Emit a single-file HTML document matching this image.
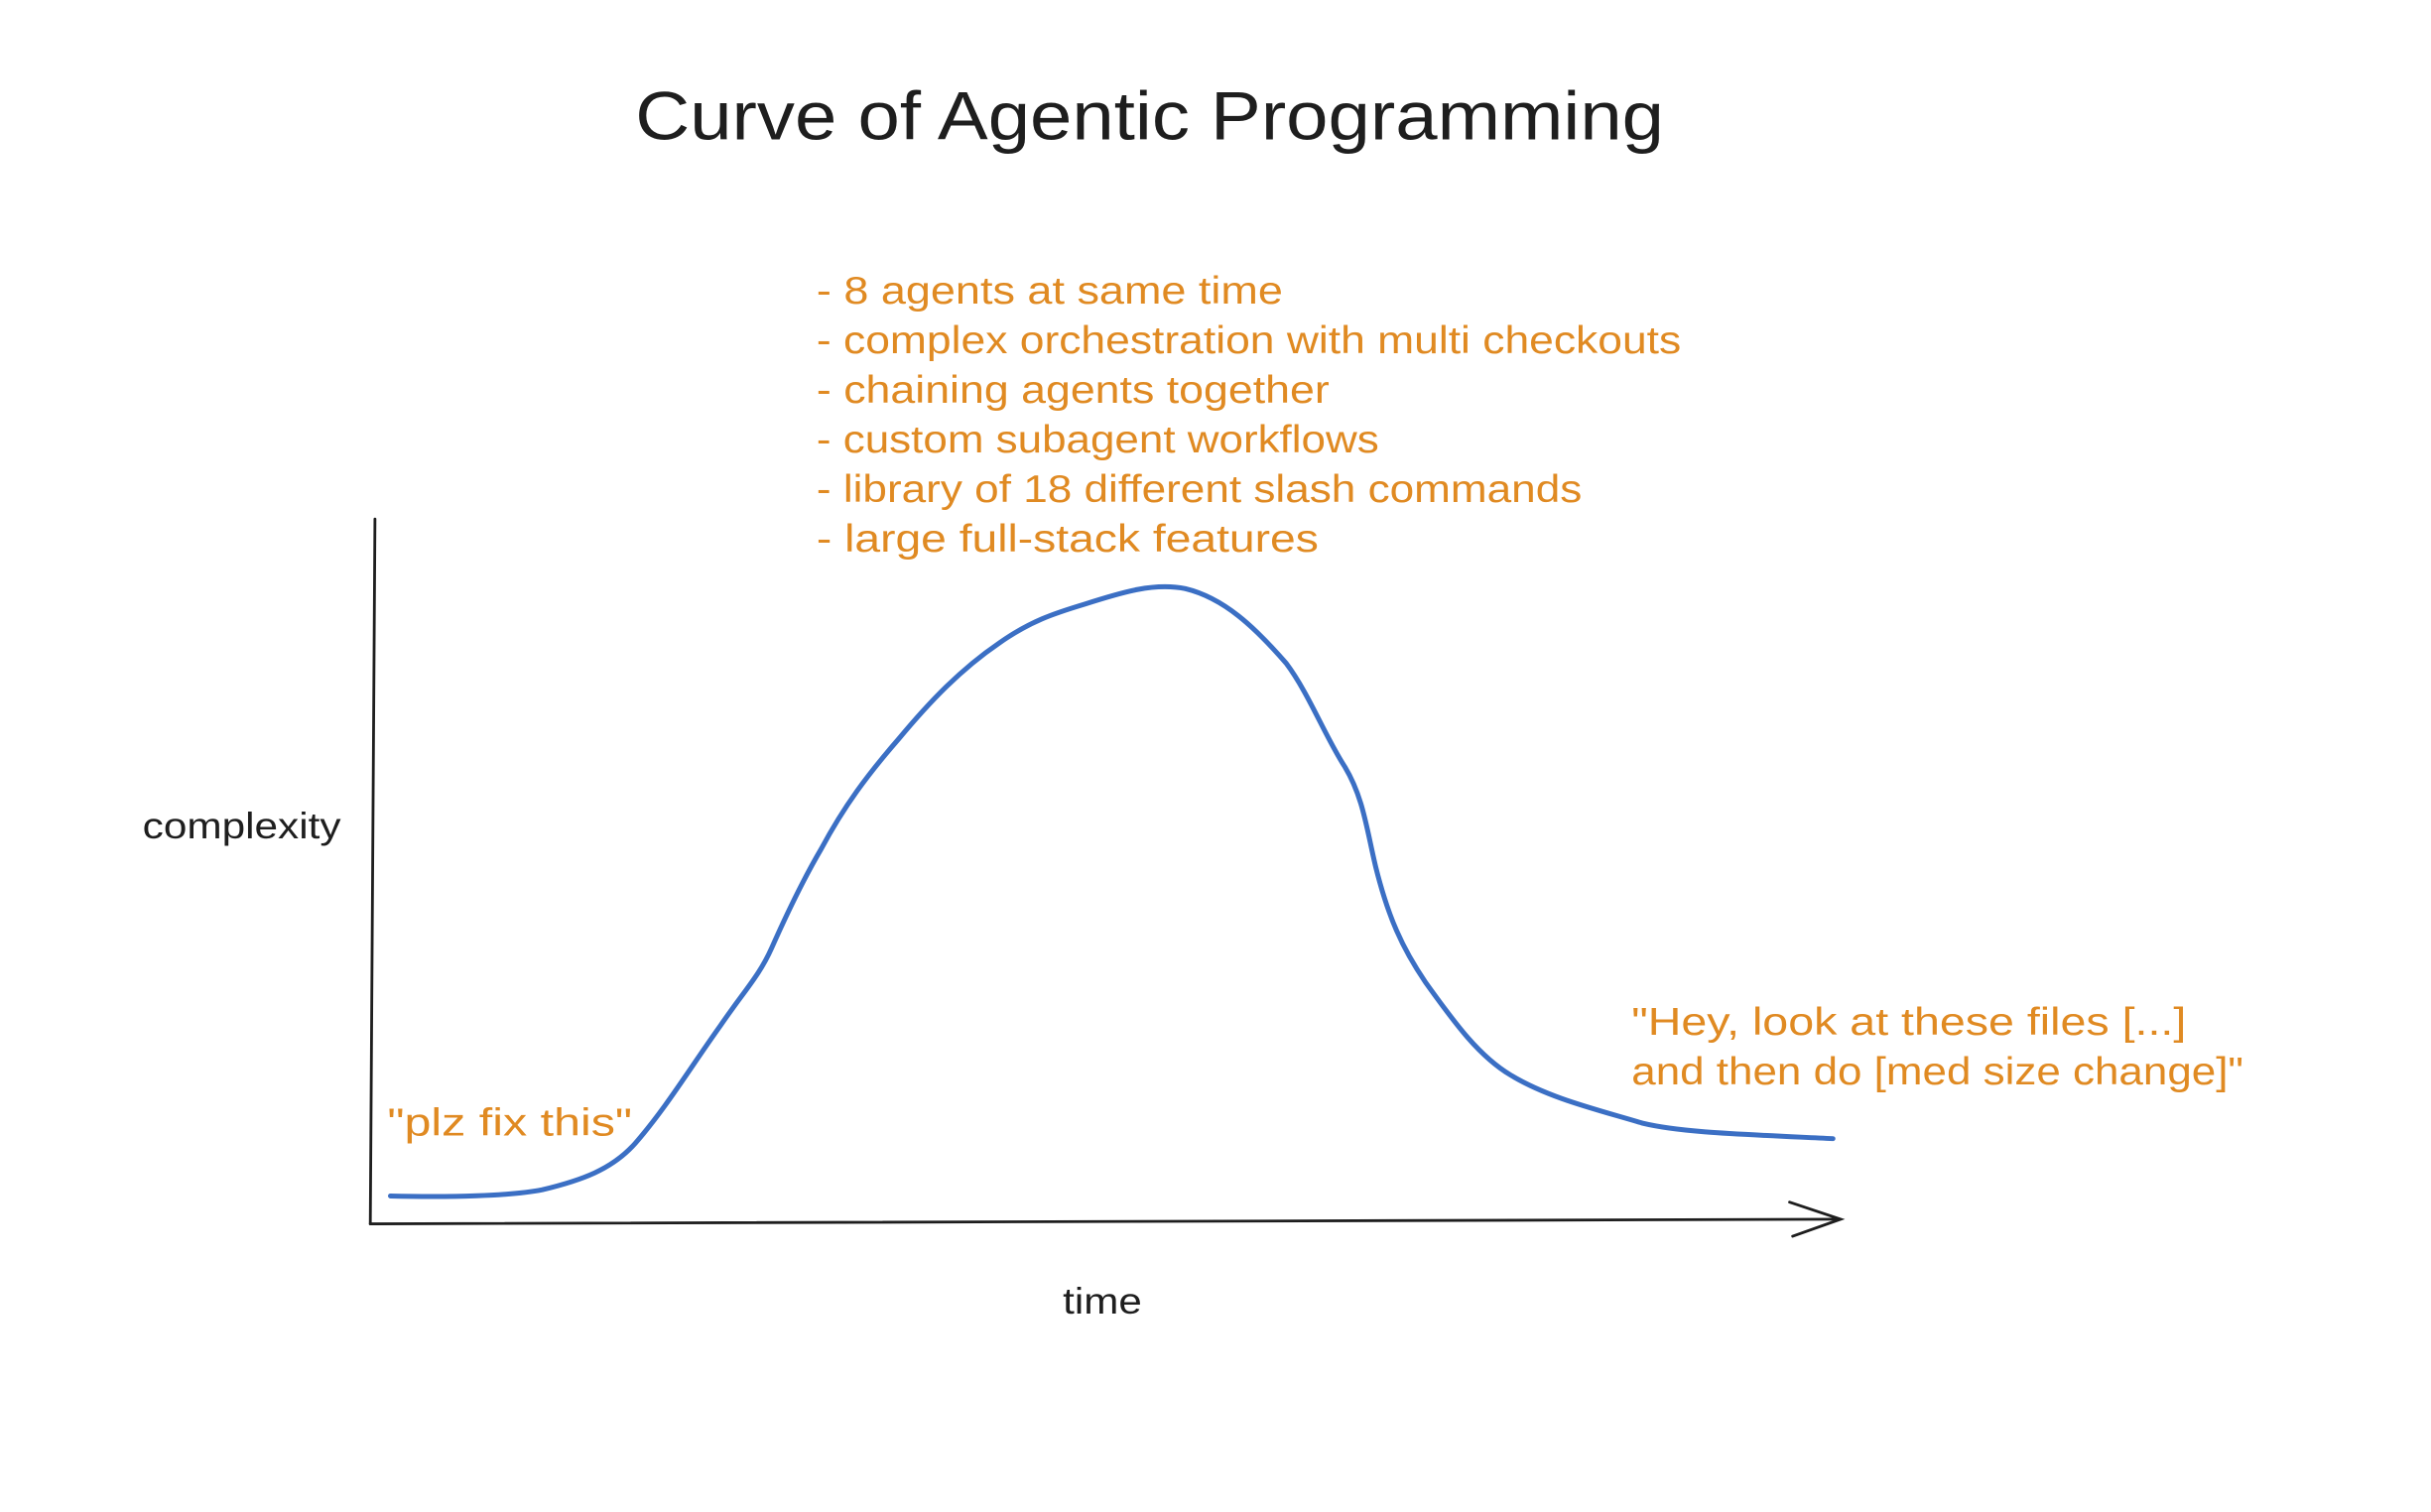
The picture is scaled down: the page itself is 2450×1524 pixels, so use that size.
<!DOCTYPE html>
<html><head><meta charset="utf-8"><style>html,body{margin:0;padding:0;background:#fff}svg{display:block}</style></head>
<body>
<svg width="2450" height="1524" viewBox="0 0 1569 976" preserveAspectRatio="none" xmlns="http://www.w3.org/2000/svg">
<rect width="1569" height="976" fill="#fff"/>
<g font-family="Liberation Sans, DejaVu Sans, sans-serif">
<text x="410" y="90" font-size="44" fill="#1e1e1e" textLength="664" lengthAdjust="spacingAndGlyphs">Curve of Agentic Programming</text>
<g fill="#e08a22" font-size="25">
<text x="527" y="196" textLength="301" lengthAdjust="spacingAndGlyphs">- 8 agents at same time</text>
<text x="527" y="228" textLength="558" lengthAdjust="spacingAndGlyphs">- complex orchestration with multi checkouts</text>
<text x="527" y="260" textLength="331" lengthAdjust="spacingAndGlyphs">- chaining agents together</text>
<text x="527" y="292" textLength="363" lengthAdjust="spacingAndGlyphs">- custom subagent workflows</text>
<text x="527" y="324" textLength="494" lengthAdjust="spacingAndGlyphs">- library of 18 different slash commands</text>
<text x="527" y="356" textLength="324" lengthAdjust="spacingAndGlyphs">- large full-stack features</text>
<text x="250" y="733" textLength="158" lengthAdjust="spacingAndGlyphs">"plz fix this"</text>
<text x="1053" y="668" textLength="358" lengthAdjust="spacingAndGlyphs">"Hey, look at these files [...]</text>
<text x="1053" y="700" textLength="395" lengthAdjust="spacingAndGlyphs">and then do [med size change]"</text>
</g>
<g fill="#1e1e1e" font-size="24">
<text x="92" y="541" textLength="128" lengthAdjust="spacingAndGlyphs">complexity</text>
<text x="686" y="848" textLength="51" lengthAdjust="spacingAndGlyphs">time</text>
</g>
</g>
<g stroke="#1e1e1e" stroke-width="1.8" fill="none" stroke-linecap="round">
<path d="M242 335 Q240 560 239 790"/>
<path d="M239 790 Q700 788 1187 787"/>
<path d="M1155 776 L1188 787 L1157 798"/>
</g>
<path fill="none" stroke="#3b6fc4" stroke-width="3.2" stroke-linecap="round" stroke-linejoin="round"
d="M252 772 C290 773 330 772 350 768 C375 762 395 755 410 738 C430 715 445 690 465 662 C480 640 490 630 498 612 C510 585 520 565 530 548 C545 520 560 500 580 477 C600 453 620 432 645 415 C665 401 680 396 700 390 C725 382 745 376 765 380 C790 386 810 405 830 428 C845 448 855 475 868 495 C880 515 882 535 888 560 C896 592 905 612 920 634 C940 662 955 682 975 694 C1000 709 1030 716 1060 725 C1085 731 1120 732 1183 735"/>
</svg>
</body></html>
